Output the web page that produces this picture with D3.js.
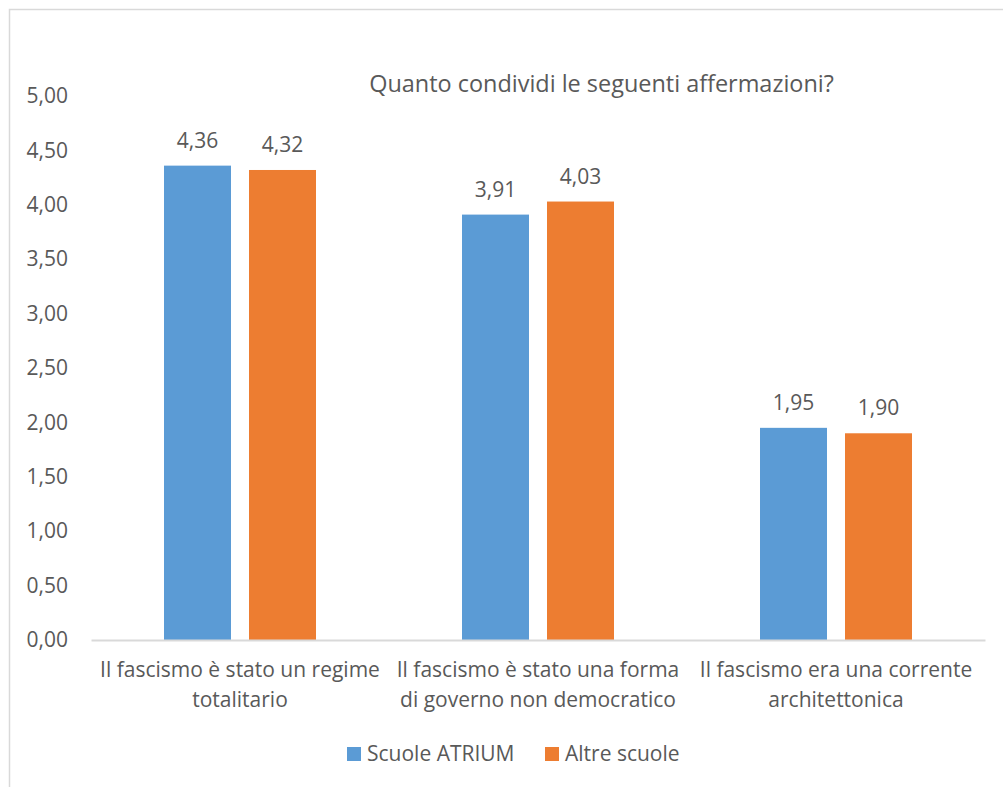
<!DOCTYPE html>
<html>
<head>
<meta charset="utf-8">
<script src="https://cdn.jsdelivr.net/npm/d3@7"></script>
<style>
  html, body { margin: 0; padding: 0; background: #fff; }
  svg { display: block; }
  text { font-family: "Open Sans", "Noto Sans", sans-serif; fill: #595959; }
</style>
</head>
<body>
<svg id="chart" width="1003" height="787"></svg>
<script>
// ---- data ----
const categories = ["cat1", "cat2", "cat3"];
const categoryLabels = [
  ["Il fascismo è stato un regime", "totalitario"],
  ["Il fascismo è stato una forma", "di governo non democratico"],
  ["Il fascismo era una corrente", "architettonica"]
];
const seriesNames = ["Scuole ATRIUM", "Altre scuole"];
const atriumValues = [4.36, 3.91, 1.95];
const altreValues = [4.32, 4.03, 1.90];
const yTicks = [0, 0.5, 1, 1.5, 2, 2.5, 3, 3.5, 4, 4.5, 5];
const colors = ["#5B9BD5", "#ED7D31"];
const title = "Quanto condividi le seguenti affermazioni?";

const seriesValues = [atriumValues, altreValues];
const rows = categories.map((c, i) => ({
  cat: c,
  values: seriesNames.map((s, j) => ({ series: s, value: seriesValues[j][i], color: colors[j] }))
}));

const locale = d3.formatLocale({ decimal: ",", thousands: ".", grouping: [3], currency: ["", "€"] });
const fmt = locale.format(".2f");

const svg = d3.select("#chart");

// font fitting helper: find font-size for target width
function fitSize(str, target) {
  const t = svg.append("text").style("font-size", "100px").text(str);
  const w = t.node().getComputedTextLength();
  t.remove();
  return 100 * target / w;
}
const baseSize = fitSize("Il fascismo è stato un regime", 280);
const titleSize = fitSize(title, 465);

// chart border
svg.append("rect")
  .attr("x", 9.5).attr("y", 9.5)
  .attr("width", 1100).attr("height", 900)
  .attr("fill", "none").attr("stroke", "#D9D9D9").attr("stroke-width", 1.5);

// scales
const y = d3.scaleLinear().domain([0, 5]).range([640, 96]);
const x0 = d3.scaleBand().domain(categories).range([91, 985]).padding(0);
const x1 = d3.scaleBand().domain(seriesNames).range([0, x0.bandwidth()])
  .paddingInner(0.2118).paddingOuter(0.859);

// title
svg.append("text")
  .attr("x", 601.5).attr("y", 92)
  .attr("text-anchor", "middle")
  .style("font-size", titleSize + "px")
  .text(title);

// y axis (labels only)
const yAxis = svg.append("g")
  .attr("transform", "translate(68,0)")
  .call(d3.axisLeft(y).tickValues(yTicks).tickSize(0).tickPadding(0).tickFormat(fmt));
yAxis.select(".domain").remove();
yAxis.selectAll("text")
  .style("font-size", baseSize + "px")
  .style("font-family", '"Open Sans", sans-serif')
  .attr("fill", "#595959");

// bars
const groups = svg.append("g").selectAll("g")
  .data(rows).join("g")
  .attr("transform", d => `translate(${x0(d.cat)},0)`);

groups.selectAll("rect")
  .data(d => d.values).join("rect")
  .attr("x", d => x1(d.series))
  .attr("width", x1.bandwidth())
  .attr("y", d => y(d.value))
  .attr("height", d => y(0) - y(d.value))
  .attr("fill", d => d.color);

groups.selectAll("text.val")
  .data(d => d.values).join("text")
  .attr("class", "val")
  .attr("x", d => x1(d.series) + x1.bandwidth() / 2)
  .attr("y", d => y(d.value) - 18)
  .attr("text-anchor", "middle")
  .style("font-size", baseSize + "px")
  .text(d => fmt(d.value));

// x axis
const xAxis = svg.append("g")
  .attr("transform", `translate(0,${y(0)})`)
  .call(d3.axisBottom(x0).tickSize(0).tickFormat(""));
xAxis.select(".domain").attr("stroke", "#D9D9D9").attr("stroke-width", 2);

// category labels (two lines)
categories.forEach((c, i) => {
  const t = svg.append("text")
    .attr("text-anchor", "middle")
    .style("font-size", baseSize + "px");
  categoryLabels[i].forEach((line, k) => {
    t.append("tspan")
      .attr("x", x0(c) + x0.bandwidth() / 2)
      .attr("y", 677 + k * 29.5)
      .text(line);
  });
});

// legend
const legendX = [347, 545];
const legend = svg.append("g").selectAll("g")
  .data(seriesNames).join("g")
  .attr("transform", (d, i) => `translate(${legendX[i]},747)`);
legend.append("rect")
  .attr("width", 14).attr("height", 14)
  .attr("fill", (d, i) => colors[i]);
legend.append("text")
  .attr("x", 20).attr("y", 14)
  .style("font-size", baseSize + "px")
  .text(d => d);
</script>
</body>
</html>
